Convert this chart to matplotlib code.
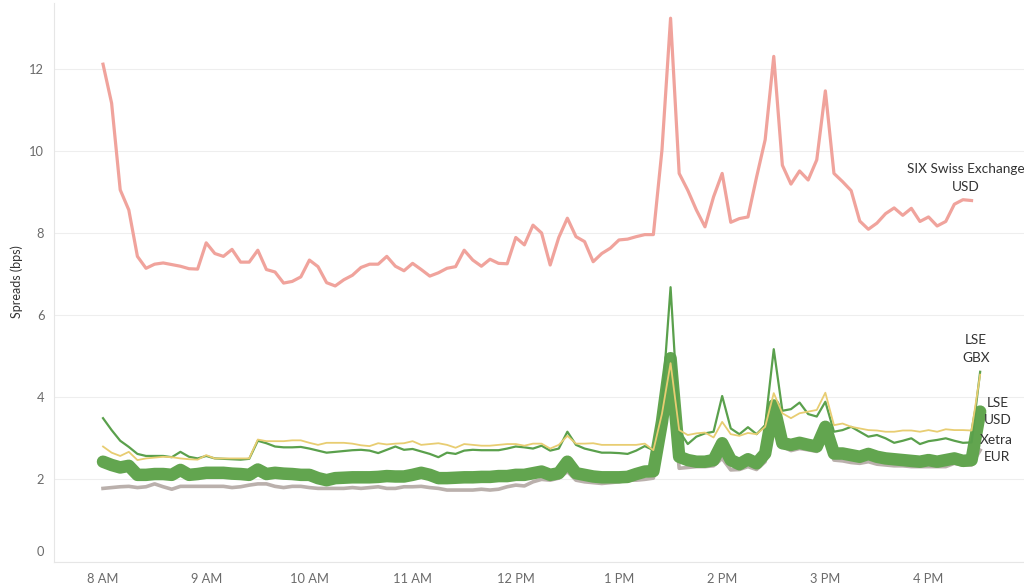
import numpy as np
import matplotlib
matplotlib.use("Agg")
import matplotlib.pyplot as plt

# spreads in bps, one value every 5 minutes from 8:00 AM
six_usd = [
    12.11, 11.16, 9.05, 8.56, 7.43, 7.14, 7.24, 7.27, 7.23, 7.19,
    7.13, 7.12, 7.76, 7.50, 7.43, 7.60, 7.29, 7.29, 7.58, 7.11,
    7.05, 6.78, 6.82, 6.93, 7.34, 7.18, 6.79, 6.71, 6.86, 6.97,
    7.16, 7.24, 7.24, 7.43, 7.19, 7.08, 7.26, 7.11, 6.95, 7.03,
    7.14, 7.18, 7.58, 7.34, 7.19, 7.36, 7.26, 7.25, 7.89, 7.71,
    8.19, 8.00, 7.22, 7.89, 8.36, 7.91, 7.79, 7.30, 7.50, 7.63,
    7.83, 7.85, 7.91, 7.96, 7.96, 10.02, 13.23, 9.45, 9.04, 8.56,
    8.15, 8.88, 9.45, 8.26, 8.35, 8.39, 9.36, 10.27, 12.30, 9.65,
    9.19, 9.51, 9.29, 9.78, 11.46, 9.45, 9.25, 9.03, 8.29, 8.09,
    8.24, 8.47, 8.61, 8.43, 8.60, 8.28, 8.39, 8.17, 8.28, 8.70,
    8.81, 8.79,
]
lse_gbx = [
    3.49, 3.20, 2.94, 2.79, 2.62, 2.57, 2.57, 2.57, 2.54, 2.67,
    2.55, 2.51, 2.57, 2.51, 2.50, 2.49, 2.48, 2.50, 2.94, 2.88,
    2.80, 2.78, 2.78, 2.79, 2.75, 2.70, 2.65, 2.67, 2.69, 2.71,
    2.72, 2.70, 2.64, 2.72, 2.80, 2.72, 2.74, 2.68, 2.62, 2.54,
    2.65, 2.62, 2.70, 2.72, 2.71, 2.71, 2.71, 2.75, 2.80, 2.78,
    2.75, 2.82, 2.70, 2.75, 3.16, 2.84, 2.75, 2.70, 2.65, 2.65,
    2.64, 2.62, 2.70, 2.81, 2.71, 3.80, 6.68, 3.18, 2.86, 3.04,
    3.12, 3.16, 4.03, 3.24, 3.10, 3.27, 3.10, 3.32, 5.17, 3.67,
    3.71, 3.87, 3.59, 3.53, 3.89, 3.16, 3.20, 3.28, 3.16, 3.04,
    3.08, 3.00, 2.89, 2.94, 3.00, 2.86, 2.93, 2.96, 3.00, 2.94,
    2.89, 2.90, 4.62,
]
unlabelled_venue = [
    2.80, 2.65, 2.57, 2.67, 2.47, 2.51, 2.53, 2.55, 2.54, 2.51,
    2.49, 2.48, 2.59, 2.51, 2.51, 2.51, 2.51, 2.51, 2.97, 2.93,
    2.93, 2.93, 2.95, 2.95, 2.89, 2.84, 2.89, 2.89, 2.89, 2.87,
    2.83, 2.81, 2.88, 2.85, 2.87, 2.88, 2.93, 2.84, 2.86, 2.88,
    2.84, 2.77, 2.86, 2.84, 2.82, 2.82, 2.84, 2.86, 2.86, 2.82,
    2.87, 2.87, 2.75, 2.84, 3.06, 2.87, 2.87, 2.88, 2.84, 2.84,
    2.84, 2.84, 2.84, 2.87, 2.71, 3.60, 4.83, 3.20, 3.08, 3.12,
    3.14, 3.02, 3.40, 3.10, 3.06, 3.13, 3.10, 3.28, 4.10, 3.61,
    3.49, 3.61, 3.65, 3.69, 4.11, 3.32, 3.36, 3.28, 3.24, 3.20,
    3.19, 3.16, 3.16, 3.19, 3.19, 3.16, 3.20, 3.16, 3.22, 3.20,
    3.20, 3.19, 4.55,
]
lse_usd = [
    2.43, 2.35, 2.29, 2.33, 2.11, 2.11, 2.13, 2.13, 2.11, 2.23,
    2.11, 2.13, 2.16, 2.16, 2.16, 2.14, 2.13, 2.11, 2.24, 2.13,
    2.16, 2.14, 2.13, 2.11, 2.11, 2.03, 1.98, 2.03, 2.04, 2.05,
    2.05, 2.05, 2.06, 2.08, 2.07, 2.07, 2.11, 2.16, 2.11, 2.03,
    2.03, 2.04, 2.05, 2.05, 2.06, 2.06, 2.08, 2.08, 2.11, 2.11,
    2.15, 2.19, 2.11, 2.15, 2.43, 2.15, 2.11, 2.07, 2.05, 2.05,
    2.05, 2.06, 2.13, 2.19, 2.20, 3.40, 4.95, 2.55, 2.47, 2.43,
    2.43, 2.47, 2.88, 2.47, 2.37, 2.49, 2.39, 2.63, 3.80, 2.88,
    2.84, 2.89, 2.84, 2.80, 3.28, 2.63, 2.63, 2.59, 2.55, 2.62,
    2.55, 2.51, 2.49, 2.47, 2.45, 2.43, 2.47, 2.43, 2.47, 2.51,
    2.45, 2.47, 3.65,
]
xetra_eur = [
    1.78, 1.80, 1.82, 1.83, 1.80, 1.82, 1.89, 1.82, 1.76, 1.83,
    1.83, 1.83, 1.83, 1.83, 1.83, 1.80, 1.82, 1.86, 1.89, 1.89,
    1.83, 1.80, 1.83, 1.83, 1.80, 1.78, 1.78, 1.78, 1.78, 1.80,
    1.78, 1.80, 1.82, 1.78, 1.78, 1.82, 1.82, 1.83, 1.80, 1.78,
    1.74, 1.74, 1.74, 1.74, 1.76, 1.74, 1.76, 1.82, 1.86, 1.84,
    1.94, 2.00, 1.98, 2.03, 2.19, 1.98, 1.94, 1.92, 1.90, 1.92,
    1.94, 1.98, 1.98, 2.00, 2.03, 3.00, 4.60, 2.27, 2.29, 2.31,
    2.31, 2.33, 2.51, 2.23, 2.24, 2.31, 2.24, 2.43, 3.61, 2.80,
    2.70, 2.75, 2.72, 2.68, 3.08, 2.47, 2.45, 2.41, 2.39, 2.43,
    2.37, 2.35, 2.33, 2.33, 2.31, 2.31, 2.31, 2.31, 2.31, 2.39,
    2.35, 2.35, 2.71,
]

hour_ticks = [8, 9, 10, 11, 12, 13, 14, 15, 16]
hour_labels = ["8 AM", "9 AM", "10 AM", "11 AM", "12 PM", "1 PM", "2 PM", "3 PM", "4 PM"]
y_ticks = [2, 4, 6, 8, 10, 12]


def hours(series):
    return 8 + np.arange(len(series)) * 5 / 60


plt.rcParams["font.family"] = ["Lato", "DejaVu Sans"]

fig = plt.figure(figsize=(10.24, 5.88), dpi=100)
ax = fig.add_axes([54 / 1024, 26.5 / 588, 970 / 1024, 558.5 / 588])

ax.plot(hours(xetra_eur), xetra_eur, color="#bab0ac", lw=2.6, solid_joinstyle="round", zorder=2)
ax.plot(hours(lse_usd), lse_usd, color="#62a54f", lw=9, solid_joinstyle="round",
        solid_capstyle="round", zorder=3)
ax.plot(hours(lse_gbx), lse_gbx, color="#5aa04c", lw=1.6, zorder=4)
ax.plot(hours(unlabelled_venue), unlabelled_venue, color="#e8cd72", lw=1.3, zorder=5)
ax.plot(hours(six_usd), six_usd, color="#f0a39c", lw=2.3, zorder=6)

ax.set_xlim(7.525, 16.925)
ax.set_ylim(0, 13.6)
ax.set_xticks(hour_ticks)
ax.set_xticklabels(hour_labels)
ax.set_yticks([0] + y_ticks)
ax.set_yticklabels([""] + [str(v) for v in y_ticks])
ax.tick_params(axis="both", length=0, labelsize=9.3, labelcolor="#6b6b6b")
ax.tick_params(axis="x", pad=8)
ax.tick_params(axis="y", pad=7)
ax.grid(axis="y", color="#eeeeee", lw=0.8)
ax.set_axisbelow(True)
for side in ["top", "right"]:
    ax.spines[side].set_visible(False)
ax.spines["left"].set_color("#e6e6e6")
ax.spines["bottom"].set_color("#e6e6e6")

# tableau lifts the bottom tick label inside the pane
ax.annotate("0", xy=(0, 0), xycoords=ax.get_yaxis_transform(), xytext=(-7, 7),
            textcoords="offset points", ha="right", va="center",
            fontsize=9.3, color="#6b6b6b")

fig.text(17 / 1024, 1 - 282 / 588, "Spreads (bps)", rotation=90, ha="center", va="center",
         fontsize=9, color="#333333")

label_kw = dict(ha="center", va="center", fontsize=9.8, color="#333333", linespacing=1.55)
ax.text(16.36, 9.34, "SIX Swiss Exchange\nUSD", **label_kw)
ax.text(16.46, 5.17, "LSE\nGBX", **label_kw)
ax.text(16.67, 3.65, "LSE\nUSD", **label_kw)
ax.text(16.66, 2.75, "Xetra\nEUR", **label_kw)

fig.savefig("out.png", dpi=100)
